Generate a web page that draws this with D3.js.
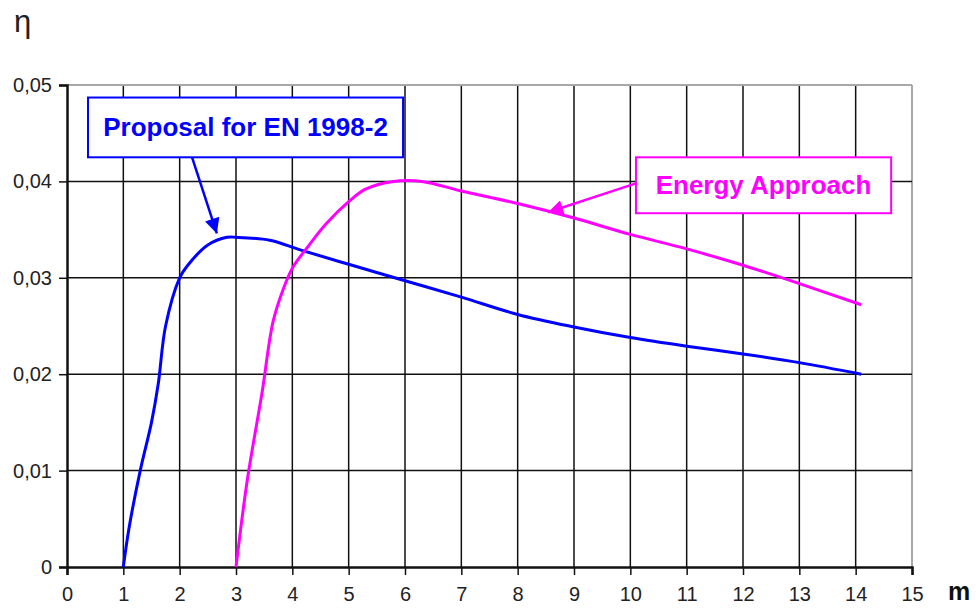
<!DOCTYPE html>
<html>
<head>
<meta charset="utf-8">
<script src="https://cdn.jsdelivr.net/npm/d3@7"></script>
<style>
  body { margin: 0; background: #fff; }
  text { font-family: "Liberation Sans", Arial, sans-serif; }
</style>
</head>
<body>
<div id="chart"></div>
<script>
// Data
var xTicks = [0, 1, 2, 3, 4, 5, 6, 7, 8, 9, 10, 11, 12, 13, 14, 15];
var yTicks = [0, 0.01, 0.02, 0.03, 0.04, 0.05];

var proposalM = [1, 1.1, 1.3, 1.5, 1.62, 1.75, 2.0, 2.13, 2.5, 2.84, 3.0, 3.6, 4.14, 5, 6, 7, 8, 9, 10, 11, 12, 13, 14.1];
var proposalEta = [0, 0.004, 0.010, 0.015, 0.0190, 0.0250, 0.0300, 0.0312, 0.0334, 0.0342, 0.0342, 0.0339, 0.0329, 0.0314, 0.0297, 0.0280, 0.0262, 0.0249, 0.0238, 0.0229, 0.0221, 0.0212, 0.0200];

var energyM = [3, 3.2, 3.46, 3.66, 3.85, 4.01, 4.26, 4.6, 5.02, 5.3, 5.8, 6.3, 7, 8, 9, 10, 11, 12, 13, 14.1];
var energyEta = [0, 0.009, 0.0180, 0.0255, 0.0290, 0.0311, 0.0331, 0.0356, 0.0380, 0.0392, 0.0400, 0.0400, 0.0390, 0.0377, 0.0362, 0.0345, 0.0330, 0.0313, 0.0294, 0.0272];

var width = 976, height = 608;
var x = d3.scaleLinear().domain([0, 15]).range([67, 912]);
var y = d3.scaleLinear().domain([0, 0.05]).range([567, 85]);

var svg = d3.select("#chart")
    .append("svg")
    .attr("width", width)
    .attr("height", height);

var commaFormat = function(d) { return d === 0 ? "0" : d3.format(".2f")(d).replace(".", ","); };

// Grid lines
svg.append("g")
    .selectAll("line")
    .data(xTicks.slice(1))
    .enter()
    .append("line")
    .attr("x1", x).attr("x2", x)
    .attr("y1", y(0.05)).attr("y2", y(0))
    .attr("stroke", function(d) { return d === 15 ? "#a8a8a8" : "#111"; })
    .attr("stroke-width", function(d) { return d === 15 ? 2 : 1.5; });

svg.append("g")
    .selectAll("line")
    .data(yTicks.slice(1))
    .enter()
    .append("line")
    .attr("x1", x(0)).attr("x2", x(15))
    .attr("y1", y).attr("y2", y)
    .attr("stroke", function(d) { return d === 0.05 ? "#a8a8a8" : "#111"; })
    .attr("stroke-width", function(d) { return d === 0.05 ? 2 : 1.5; });

// Axes
var xAxis = svg.append("g")
    .attr("transform", "translate(0," + y(0) + ")")
    .call(d3.axisBottom(x).tickValues(xTicks).tickSize(8).tickPadding(12).tickFormat(d3.format("d")));

var yAxis = svg.append("g")
    .attr("transform", "translate(" + x(0) + ",0)")
    .call(d3.axisLeft(y).tickValues(yTicks).tickSize(8).tickPadding(7).tickFormat(commaFormat));

[xAxis, yAxis].forEach(function(a) {
    a.select(".domain").attr("stroke", "#111").attr("stroke-width", 2.5);
    a.selectAll(".tick line").attr("stroke", "#111").attr("stroke-width", 1.5);
    a.selectAll(".tick text")
        .attr("fill", "#222")
        .style("font-size", "20px")
        .style("font-family", "'Liberation Sans', Arial, sans-serif");
});

// Axis titles
svg.append("text")
    .attr("x", 14).attr("y", 32)
    .style("font-size", "31px")
    .attr("fill", "#222")
    .text("η");

svg.append("text")
    .attr("x", 948).attr("y", 600)
    .style("font-size", "25px")
    .style("font-weight", "bold")
    .attr("fill", "#111")
    .text("m");

// Curves
var line = d3.line()
    .x(function(d) { return x(d[0]); })
    .y(function(d) { return y(d[1]); })
    .curve(d3.curveCatmullRom.alpha(0.5));

svg.append("path")
    .datum(d3.zip(proposalM, proposalEta))
    .attr("fill", "none")
    .attr("stroke", "#0000ff")
    .attr("stroke-width", 3)
    .attr("d", line);

svg.append("path")
    .datum(d3.zip(energyM, energyEta))
    .attr("fill", "none")
    .attr("stroke", "#ff00ff")
    .attr("stroke-width", 3)
    .attr("d", line);

// Labels with pointers
var defs = svg.append("defs");
function marker(id, color) {
    defs.append("marker")
        .attr("id", id)
        .attr("viewBox", "0 0 10 10")
        .attr("refX", 10).attr("refY", 5)
        .attr("markerWidth", 8).attr("markerHeight", 6)
        .attr("markerUnits", "strokeWidth")
        .attr("orient", "auto")
        .append("path")
        .attr("d", "M0,0 L10,5 L0,10 Z")
        .attr("fill", color);
}
marker("arrowBlue", "#0000ff");
marker("arrowPink", "#ff00ff");

var labels = [
    { text: "Proposal for EN 1998-2", color: "#0000ff", box: [0.373, 0.0487, 5.965, 0.0425], from: [2.22, 0.0425], to: [2.66, 0.0346], marker: "arrowBlue" },
    { text: "Energy Approach", color: "#ff00ff", box: [10.1, 0.0425, 14.63, 0.0367], from: [10.1, 0.0398], to: [8.54, 0.0368], marker: "arrowPink" }
];

labels.forEach(function(l) {
    svg.append("line")
        .attr("x1", x(l.from[0])).attr("y1", y(l.from[1]))
        .attr("x2", x(l.to[0])).attr("y2", y(l.to[1]))
        .attr("stroke", l.color)
        .attr("stroke-width", 2.5)
        .attr("marker-end", "url(#" + l.marker + ")");

    svg.append("rect")
        .attr("x", x(l.box[0])).attr("y", y(l.box[1]))
        .attr("width", x(l.box[2]) - x(l.box[0]))
        .attr("height", y(l.box[3]) - y(l.box[1]))
        .attr("fill", "#fff")
        .attr("stroke", l.color)
        .attr("stroke-width", 2);

    svg.append("text")
        .attr("x", (x(l.box[0]) + x(l.box[2])) / 2)
        .attr("y", (y(l.box[1]) + y(l.box[3])) / 2 + 9)
        .attr("text-anchor", "middle")
        .attr("fill", l.color)
        .style("font-size", "26px")
        .style("font-weight", "bold")
        .text(l.text);
});
</script>
</body>
</html>
